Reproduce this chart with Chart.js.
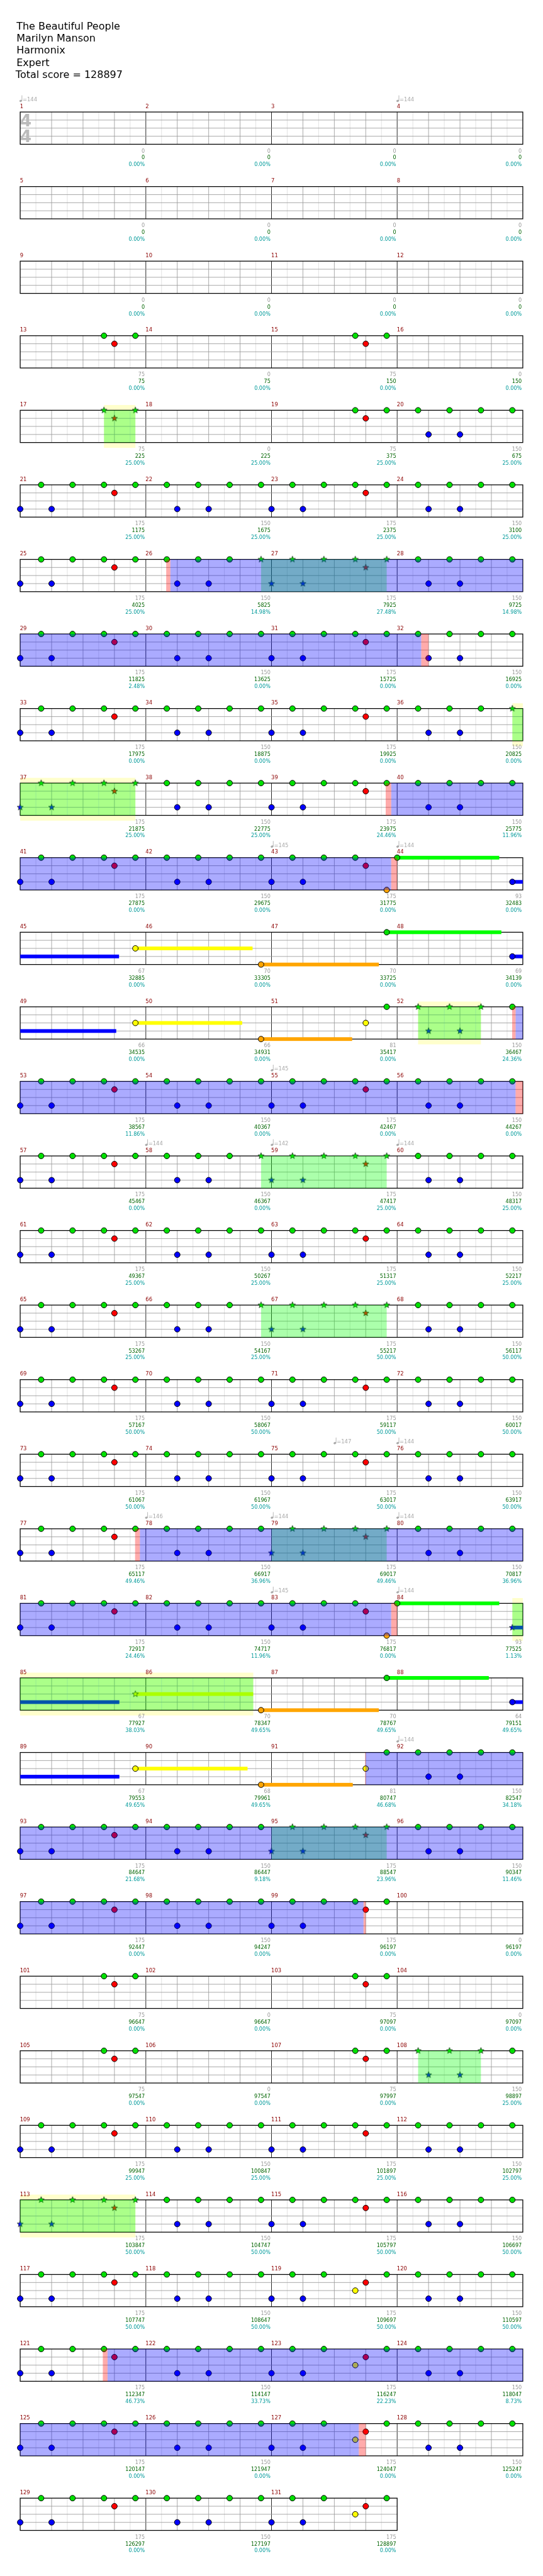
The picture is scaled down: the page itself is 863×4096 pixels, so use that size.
<!DOCTYPE html>
<html>
<head>
<meta charset="utf-8">
<script src="https://cdn.jsdelivr.net/npm/chart.js@4"></script>
<style>
  body { margin: 0; background: #fff; }
  canvas { display: block; }
</style>
</head>
<body>
<canvas id="chartPartition" width="863" height="4096"></canvas>
<script>
/* ---------------- données ---------------- */
var titleLines = ["The Beautiful People", "Marilyn Manson", "Harmonix", "Expert", "Total score = 128897"];
var nbMesures = 131;

// motifs de notes [corde, temps] (0 vert, 1 rouge, 2 jaune, 3 bleu, 4 orange)
var motifA = [[0, 0.667], [0, 1.667], [0, 2.667], [0, 3.667], [1, 3], [3, 0], [3, 1]];
var motifB = [[0, 0.667], [0, 1.667], [0, 2.667], [0, 3.667], [3, 1], [3, 2]];
var motifI = [[0, 2.667], [0, 3.667], [1, 3]];
var motifE = [[0, 0.667], [0, 1.667], [0, 2.667], [4, 3.667], [1, 3], [3, 0], [3, 1]];
var motifY = [[0, 0.667], [0, 1.667], [2, 2.667], [0, 3.667], [1, 3], [3, 0], [3, 1]];
var motifs = { A: motifA, B: motifB, I: motifI, E: motifE, Y: motifY };

// motif de chaque mesure (1..131)
var measurePatterns = [
  "", "", "", "", "", "", "", "", "", "", "", "",
  "I", "", "I", "", "I", "", "I", "B",
  "A", "B", "A", "B", "A", "B", "A", "B", "A", "B", "A", "B",
  "A", "B", "A", "B", "A", "B", "A", "B", "A", "B", "E", "",
  "", "", "", "", "", "", "", "B",
  "A", "B", "A", "B", "A", "B", "A", "B", "A", "B", "A", "B", "A", "B", "A", "B",
  "A", "B", "A", "B", "A", "B", "A", "B", "A", "B", "A", "B",
  "A", "B", "E", "", "", "", "", "", "", "", "", "B",
  "A", "B", "A", "B", "A", "B", "A", "",
  "I", "", "I", "", "I", "", "I", "B",
  "A", "B", "A", "B", "A", "B", "A", "B",
  "A", "B", "Y", "B", "A", "B", "Y", "B", "A", "B", "Y", "B", "A", "B", "Y"
];

// notes isolées [mesure, corde, temps, durée tenue en temps]
var extraNotes = [
  [44, 0, 0, 3.25], [44, 3, 3.667, 3.48], [45, 2, 3.667, 3.73], [46, 4, 3.667, 3.75],
  [47, 0, 3.667, 3.65], [48, 3, 3.667, 3.39], [49, 2, 3.667, 3.4], [50, 4, 3.667, 2.9],
  [51, 2, 3, 0], [51, 0, 3.667, 0],
  [84, 0, 0, 3.25], [84, 3, 3.667, 3.49], [85, 2, 3.667, 3.75], [86, 4, 3.667, 3.75],
  [87, 0, 3.667, 3.25], [88, 3, 3.667, 3.49], [89, 2, 3.667, 3.57], [90, 4, 3.667, 2.92],
  [91, 2, 3, 0], [91, 0, 3.667, 0]
];

// phrases star power [début, fin (temps globaux), fond jaune]
var starPhrases = [
  [66.667, 67.667, true], [103.667, 107.667, false], [143.667, 147.667, true],
  [204.667, 206.667, true], [231.667, 235.667, false], [263.667, 267.667, false],
  [312, 315.667, false], [335.667, 343.42, true], [376, 379.667, false],
  [428.667, 430.667, false], [448, 451.667, true]
];
// overdrive actif (bleu) et zones rouges
var overdriveZones = [[100.78, 124.767], [155.81, 171.81], [207.77, 223.77], [307.81, 331.81], [363.0, 394.93],
  [482.78, 506.78]];
var redZones = [[100.648, 100.78], [124.767, 125.0], [155.635, 155.81], [171.81, 172.0],
  [207.66, 207.77], [223.77, 224.0], [307.657, 307.81], [331.81, 332.0], [362.98, 363.0], [394.93, 395.0],
  [482.63, 482.78], [506.78, 507.0]];

// tempos [mesure, temps, bpm]
var tempoMarks = [[1, 0, 144], [4, 0, 144], [43, 0, 145], [44, 0, 144], [55, 0, 145], [58, 0, 144],
  [59, 0, 142], [60, 0, 144], [75, 2, 147], [76, 0, 144], [78, 0, 146], [79, 0, 144], [80, 0, 144],
  [83, 0, 145], [84, 0, 144], [92, 0, 144]];

// scores par mesure
var scoreBase = [
  0, 0, 0, 0, 0, 0, 0, 0, 0, 0, 0, 0,
  75, 0, 75, 0, 75, 0, 75, 150,
  175, 150, 175, 150, 175, 150, 175, 150, 175, 150, 175, 150,
  175, 150, 175, 150, 175, 150, 175, 150, 175, 150, 175, 93,
  67, 70, 70, 69, 66, 66, 81, 150,
  175, 150, 175, 150, 175, 150, 175, 150, 175, 150, 175, 150, 175, 150, 175, 150,
  175, 150, 175, 150, 175, 150, 175, 150, 175, 150, 175, 150,
  175, 150, 175, 93, 67, 70, 70, 64, 67, 68, 81, 150,
  175, 150, 175, 150, 175, 150, 175, 0,
  75, 0, 75, 0, 75, 0, 75, 150,
  175, 150, 175, 150, 175, 150, 175, 150,
  175, 150, 175, 150, 175, 150, 175, 150, 175, 150, 175, 150, 175, 150, 175
];
var scoreTotal = [
  0, 0, 0, 0, 0, 0, 0, 0, 0, 0, 0, 0,
  75, 75, 150, 150, 225, 225, 375, 675,
  1175, 1675, 2375, 3100, 4025, 5825, 7925, 9725, 11825, 13625, 15725, 16925,
  17975, 18875, 19925, 20825, 21875, 22775, 23975, 25775, 27875, 29675, 31775, 32483,
  32885, 33305, 33725, 34139, 34535, 34931, 35417, 36467,
  38567, 40367, 42467, 44267, 45467, 46367, 47417, 48317, 49367, 50267, 51317, 52217, 53267, 54167, 55217, 56117,
  57167, 58067, 59117, 60017, 61067, 61967, 63017, 63917, 65117, 66917, 69017, 70817,
  72917, 74717, 76817, 77525, 77927, 78347, 78767, 79151, 79553, 79961, 80747, 82547,
  84647, 86447, 88547, 90347, 92447, 94247, 96197, 96197,
  96647, 96647, 97097, 97097, 97547, 97547, 97997, 98897,
  99947, 100847, 101897, 102797, 103847, 104747, 105797, 106697,
  107747, 108647, 109697, 110597, 112347, 114147, 116247, 118047, 120147, 121947, 124047, 125247, 126297, 127197, 128897
];
var scorePct = [
  0, 0, 0, 0, 0, 0, 0, 0, 0, 0, 0, 0,
  0, 0, 0, 0, 25, 25, 25, 25,
  25, 25, 25, 25, 25, 14.98, 27.48, 14.98, 2.48, 0, 0, 0,
  0, 0, 0, 0, 25, 25, 24.46, 11.96, 0, 0, 0, 0,
  0, 0, 0, 0, 0, 0, 0, 24.36,
  11.86, 0, 0, 0, 0, 0, 25, 25, 25, 25, 25, 25, 25, 25, 50, 50,
  50, 50, 50, 50, 50, 50, 50, 50, 49.46, 36.96, 49.46, 36.96,
  24.46, 11.96, 0, 1.13, 38.03, 49.65, 49.65, 49.65, 49.65, 49.65, 46.68, 34.18,
  21.68, 9.18, 23.96, 11.46, 0, 0, 0, 0,
  0, 0, 0, 0, 0, 0, 0, 25,
  25, 25, 25, 25, 50, 50, 50, 50,
  50, 50, 50, 50, 46.73, 33.73, 22.23, 8.73, 0, 0, 0, 0, 0, 0, 0
];

/* ---------------- mise en page ---------------- */
var K = 863 / 1024;               // échelle par rapport à la référence
var STAFF_TOP = 205.3, ROW_PITCH = 141, LANE = 15.25, STAFF_H = 61;
var laneColors = ["#00e000", "#ff0000", "#ffff00", "#0000ff", "#ffa500"];
var susColors = ["#00ff00", "#ff0000", "#ffff00", "#0000ff", "#ffa500"];
var FONT = "DejaVu Sans";

function staffTop(r) { return STAFF_TOP + r * ROW_PITCH; }
function laneY(r, lane) { return staffTop(r) + lane * LANE; }
function isStar(g) {
  return starPhrases.some(function (s) { return g >= s[0] - 0.01 && g <= s[1] + 0.01; });
}
// découpe un intervalle de temps global par ligne
function eachRowPart(g0, g1, fn) {
  var r0 = Math.floor(g0 / 16), r1 = Math.floor((g1 - 1e-6) / 16);
  for (var r = r0; r <= r1; r++) {
    fn(r, Math.max(g0, r * 16) - r * 16, Math.min(g1, (r + 1) * 16) - r * 16);
  }
}

var allNotes = [];
for (var m = 1; m <= nbMesures; m++) {
  var p = measurePatterns[m - 1];
  if (p) motifs[p].forEach(function (n) { allNotes.push({ m: m, lane: n[0], beat: n[1], sus: 0 }); });
}
extraNotes.forEach(function (n) { allNotes.push({ m: n[0], lane: n[1], beat: n[2], sus: n[3] }); });

// images étoile
function makeStar(color) {
  var s = 14;
  var c = document.createElement("canvas");
  c.width = s; c.height = s;
  var g = c.getContext("2d");
  var R = 6.2 * K, ri = 2.6 * K;
  g.beginPath();
  for (var i = 0; i < 10; i++) {
    var a = -Math.PI / 2 + i * Math.PI / 5, rr = (i % 2) ? ri : R;
    g.lineTo(s / 2 + rr * Math.cos(a), s / 2 + rr * Math.sin(a));
  }
  g.closePath();
  g.fillStyle = color; g.fill();
  g.strokeStyle = "#1c2c1c"; g.lineWidth = 0.8; g.stroke();
  return c;
}
var starImgs = laneColors.map(makeStar);

var datasets = laneColors.map(function (col, lane) {
  var pts = allNotes.filter(function (n) { return n.lane === lane; }).map(function (n) {
    var r = Math.floor((n.m - 1) / 4), c = (n.m - 1) % 4;
    var g = (n.m - 1) * 4 + n.beat;
    return { x: c * 4 + n.beat, y: laneY(r, lane), star: isStar(g) };
  });
  return {
    label: "corde" + lane,
    data: pts,
    backgroundColor: col,
    borderColor: "#000",
    borderWidth: 1,
    pointRadius: 5.3 * K,
    pointStyle: function (ctx) { return ctx.raw && ctx.raw.star ? starImgs[lane] : "circle"; }
  };
});

/* ---------------- dessin ---------------- */
var partitionPlugin = {
  id: "partition",
  beforeDatasetsDraw: function (chart) {
    var ctx = chart.ctx, sx = chart.scales.x, sy = chart.scales.y;
    var nbRows = Math.ceil(nbMesures / 4);
    ctx.save();
    // fonds jaunes des phrases
    ctx.fillStyle = "#ffffcc";
    starPhrases.forEach(function (s) {
      if (!s[2]) return;
      eachRowPart(s[0], s[1], function (r, a, b) {
        var t = sy.getPixelForValue(staffTop(r) - 10), bt = sy.getPixelForValue(staffTop(r) + STAFF_H + 10);
        ctx.fillRect(sx.getPixelForValue(a), t, sx.getPixelForValue(b) - sx.getPixelForValue(a), bt - t);
      });
    });
    for (var r = 0; r < nbRows; r++) {
      var nm = Math.min(4, nbMesures - r * 4), w = nm * 4;
      var y0 = sy.getPixelForValue(staffTop(r)), y1 = sy.getPixelForValue(staffTop(r) + STAFF_H);
      var xl = sx.getPixelForValue(0), xr = sx.getPixelForValue(w);
      ctx.lineWidth = 1 * K;
      for (var h = 0.5; h < w; h += 0.5) {
        var xx = sx.getPixelForValue(h);
        ctx.strokeStyle = (h % 4 === 0) ? "#000" : (h % 1 === 0 ? "#999" : "#ddd");
        ctx.beginPath(); ctx.moveTo(xx, y0); ctx.lineTo(xx, y1); ctx.stroke();
      }
      ctx.strokeStyle = "#999";
      for (var l = 1; l < 4; l++) {
        var yy = sy.getPixelForValue(laneY(r, l));
        ctx.beginPath(); ctx.moveTo(xl, yy); ctx.lineTo(xr, yy); ctx.stroke();
      }
      ctx.strokeStyle = "#000"; ctx.lineWidth = 1.5 * K;
      ctx.strokeRect(xl, y0, xr - xl, y1 - y0);
    }
    // chiffrage 4/4
    ctx.fillStyle = "#bbb"; ctx.font = "bold " + (31 * K) + "px " + FONT;
    ctx.textAlign = "center"; ctx.textBaseline = "alphabetic";
    ctx.fillText("4", sx.getPixelForValue(0.18), sy.getPixelForValue(staffTop(0) + 26.7));
    ctx.fillText("4", sx.getPixelForValue(0.18), sy.getPixelForValue(staffTop(0) + 56.7));
    // notes tenues
    allNotes.forEach(function (n) {
      if (!n.sus) return;
      var g = (n.m - 1) * 4 + n.beat;
      ctx.fillStyle = susColors[n.lane];
      eachRowPart(g, g + n.sus, function (r, a, b) {
        var yc = laneY(r, n.lane);
        var t = sy.getPixelForValue(yc - 3.5), bt = sy.getPixelForValue(yc + 3.5);
        ctx.fillRect(sx.getPixelForValue(a), t, sx.getPixelForValue(b) - sx.getPixelForValue(a), bt - t);
      });
    });
    ctx.restore();
  },
  afterDatasetsDraw: function (chart) {
    var ctx = chart.ctx, sx = chart.scales.x, sy = chart.scales.y;
    ctx.save();
    function overlay(zones, color) {
      ctx.fillStyle = color;
      zones.forEach(function (z) {
        eachRowPart(z[0], z[1], function (r, a, b) {
          var t = sy.getPixelForValue(staffTop(r)), bt = sy.getPixelForValue(staffTop(r) + STAFF_H);
          ctx.fillRect(sx.getPixelForValue(a), t, sx.getPixelForValue(b) - sx.getPixelForValue(a), bt - t);
        });
      });
    }
    overlay(starPhrases, "rgba(0,255,0,0.33)");
    overlay(overdriveZones, "rgba(0,0,255,0.33)");
    overlay(redZones, "rgba(255,0,0,0.33)");

    // titre
    ctx.fillStyle = "#000"; ctx.textAlign = "left"; ctx.textBaseline = "alphabetic";
    ctx.font = (19 * K) + "px " + FONT;
    titleLines.forEach(function (t, i) {
      ctx.fillText(t, (i === 4 ? 29.5 : 31) * K, sy.getPixelForValue(49 + i * 23));
    });

    // numéros de mesure et scores
    for (var m = 1; m <= nbMesures; m++) {
      var r = Math.floor((m - 1) / 4), c = (m - 1) % 4;
      var top = staffTop(r), bot = top + STAFF_H;
      ctx.font = (10 * K) + "px " + FONT;
      ctx.textAlign = "left"; ctx.fillStyle = "#8b0000";
      ctx.fillText(String(m), sx.getPixelForValue(c * 4) - 0.5 * K, sy.getPixelForValue(top - 7.5));
      var xe = sx.getPixelForValue(c * 4 + 4) - 2 * K;
      ctx.textAlign = "right";
      ctx.font = (9.6 * K) + "px " + FONT;
      ctx.fillStyle = "#9a9a9a";
      ctx.fillText(String(scoreBase[m - 1]), xe, sy.getPixelForValue(bot + 15.6));
      ctx.fillStyle = "#006400";
      ctx.fillText(String(scoreTotal[m - 1]), xe, sy.getPixelForValue(bot + 28.6));
      ctx.fillStyle = "#009a9a";
      ctx.fillText(scorePct[m - 1].toFixed(2) + "%", xe, sy.getPixelForValue(bot + 41.6));
    }

    // tempos
    tempoMarks.forEach(function (tm) {
      var r = Math.floor((tm[0] - 1) / 4), c = (tm[0] - 1) % 4;
      var x = sx.getPixelForValue(c * 4 + tm[1]) + 1 * K;
      var yh = sy.getPixelForValue(staffTop(r) - 21);
      ctx.fillStyle = "#aaa"; ctx.strokeStyle = "#aaa"; ctx.lineWidth = 1 * K;
      ctx.beginPath(); ctx.ellipse(x, yh, 2.6 * K, 2 * K, -0.3, 0, Math.PI * 2); ctx.fill();
      ctx.beginPath(); ctx.moveTo(x + 2.3 * K, yh); ctx.lineTo(x + 2.3 * K, sy.getPixelForValue(staffTop(r) - 31.5)); ctx.stroke();
      ctx.textAlign = "left"; ctx.font = (10 * K) + "px " + FONT;
      ctx.fillText("=" + tm[2], x + 3.6 * K, sy.getPixelForValue(staffTop(r) - 20.5));
    });
    ctx.restore();
  }
};

new Chart(document.getElementById("chartPartition").getContext("2d"), {
  type: "scatter",
  data: { datasets: datasets },
  options: {
    responsive: false,
    animation: false,
    devicePixelRatio: 1,
    events: [],
    layout: { padding: 0 },
    scales: {
      x: { type: "linear", display: false, min: -0.5333, max: 16.5333 },
      y: { type: "linear", display: false, min: 0, max: 4858, reverse: true }
    },
    plugins: { legend: { display: false }, tooltip: { enabled: false } }
  },
  plugins: [partitionPlugin]
});
</script>
</body>
</html>
